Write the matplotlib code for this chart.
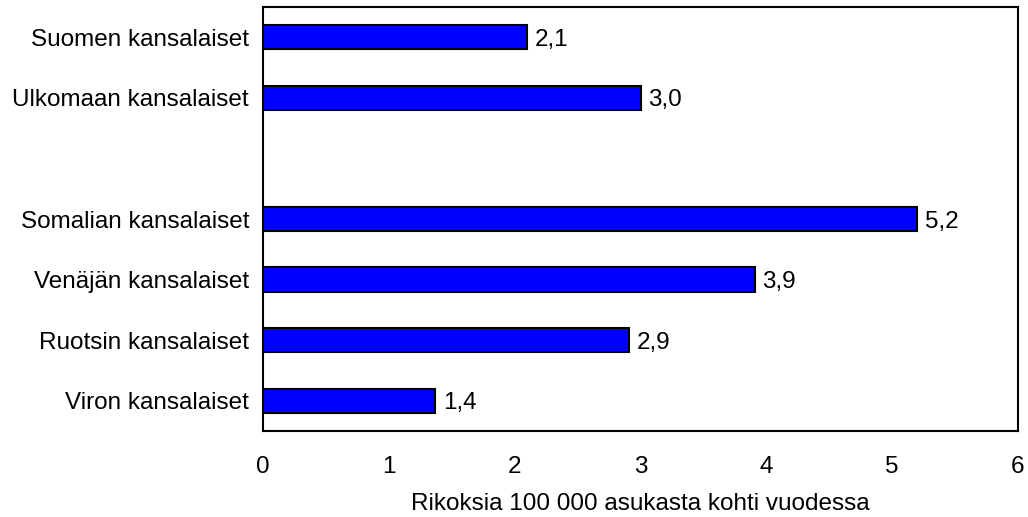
import matplotlib
matplotlib.use('Agg')
import matplotlib.pyplot as plt

plt.rcParams['font.family'] = ['Liberation Sans', 'DejaVu Sans']

# data, top to bottom (None = empty slot)
categories = ['Suomen kansalaiset', 'Ulkomaan kansalaiset', '',
              'Somalian kansalaiset', 'Venäjän kansalaiset',
              'Ruotsin kansalaiset', 'Viron kansalaiset']
values = [2.1, 3.0, None, 5.2, 3.91, 2.91, 1.37]
value_labels = ['2,1', '3,0', '', '5,2', '3,9', '2,9', '1,4']
xlabel = 'Rikoksia 100 000 asukasta kohti vuodessa'

fig = plt.figure(figsize=(10.28, 5.17), dpi=100)
ax = fig.add_axes([263 / 1028, 1 - 431 / 517, (1018 - 263) / 1028, (431 - 7) / 517])

fs = 17.5
for i, (v, lab) in enumerate(zip(values, value_labels)):
    if v is None:
        continue
    ax.barh(i, v, height=0.4, color='#0000ff', edgecolor='black', linewidth=1.5)
    ax.text(v + 0.06, i, lab, va='center_baseline', ha='left', fontsize=fs)

ax.set_yticks(range(len(categories)))
ax.set_yticklabels(categories, fontsize=fs)
ax.set_ylim(len(categories) - 0.5, -0.5)
ax.set_xlim(0, 6)
ax.set_xticks(range(7))
ax.set_xticklabels([str(t) for t in range(7)], fontsize=fs)
ax.tick_params(axis='x', length=0, pad=18)
ax.tick_params(axis='y', length=0, pad=10)
ax.set_xlabel(xlabel, fontsize=fs, labelpad=11)
for s in ax.spines.values():
    s.set_linewidth(1.5)

fig.savefig('out.png', dpi=100)
